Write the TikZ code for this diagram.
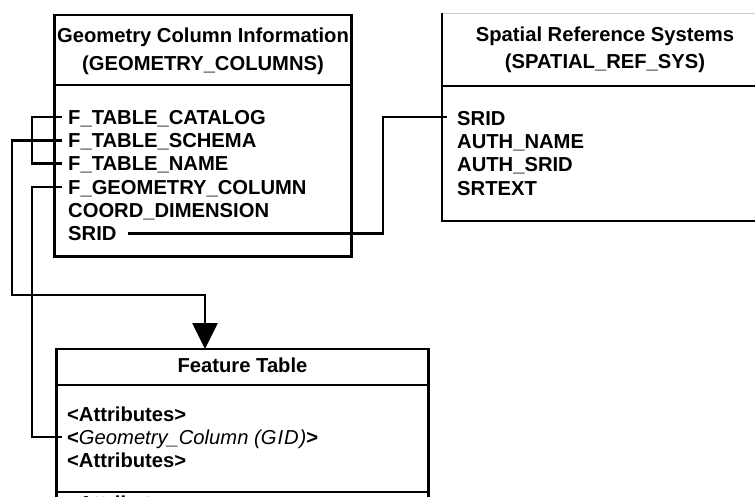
\documentclass[tikz,border=0pt]{standalone}
\usepackage{fontspec}
\setmainfont{Liberation Sans}
\usetikzlibrary{arrows.meta,calc}
\begin{document}
\begin{tikzpicture}[x=1pt,y=-1pt,
  frame/.style={draw=black,line width=2.8pt,inner sep=0pt,outer sep=0pt},
  blank/.style={inner sep=0pt,outer sep=0pt},
  rule/.style={line width=2.8pt},
  conn/.style={line width=2.7pt},
  field/.style={anchor=base west,inner sep=0pt,font=\fontsize{20.2}{24}\selectfont\bfseries},
  head/.style={anchor=base,inner sep=0pt,font=\fontsize{20.2}{24}\selectfont\bfseries},
  tip/.style={-{Triangle[length=26pt,width=25pt]}},
]
\useasboundingbox (0,0) rectangle (755,496);
\clip (0,0) rectangle (755,496);

% ---------- GEOMETRY_COLUMNS table ----------
\node[frame, anchor=north west, minimum width=296.7pt, minimum height=241.7pt] (gc) at (54.5,15) {};
\draw[rule] ($(gc.north west)+(0,70)$) -- ($(gc.north east)+(0,70)$);
\node[head] (gct1) at (203,42) {Geometry Column Information};
\node[head] (gct2) at (203,70) {(GEOMETRY\_COLUMNS)};
\node[field] (cat)  at (68,124)   {F\_TABLE\_CATALOG};
\node[field] (sch)  at (68,147.3) {F\_TABLE\_SCHEMA};
\node[field] (nam)  at (68,170.6) {F\_TABLE\_NAME};
\node[field] (gcol) at (68,194)   {F\_GEOMETRY\_COLUMN};
\node[field] (dim)  at (68,217.3) {COORD\_DIMENSION};
\node[field] (srid) at (68,240.6) {SRID};

% ---------- SPATIAL_REF_SYS table (runs off the right edge) ----------
\node[blank, anchor=north west, minimum width=400pt, minimum height=208pt] (srs) at (442,13) {};
\draw[gray!40, line width=0.8pt] (srs.north west) -- (srs.north east);
\draw[rule] (srs.north west) -- (srs.south west) -- (srs.south east);
\draw[rule] ($(srs.north west)+(0,73)$) -- ($(srs.north east)+(0,73)$);
\node[head] (srt1) at (605,41)   {Spatial Reference Systems};
\node[head] (srt2) at (605,68.5) {(SPATIAL\_REF\_SYS)};
\node[field] (s1) at (457,125)   {SRID};
\node[field] (s2) at (457,148.3) {AUTH\_NAME};
\node[field] (s3) at (457,171.6) {AUTH\_SRID};
\node[field] (s4) at (457,195)   {SRTEXT};

% ---------- Feature table (runs off the bottom edge) ----------
\node[frame, anchor=north west, minimum width=371.5pt, minimum height=200pt] (ft) at (56.7,349) {};
\draw[rule] ($(ft.north west)+(0,36)$) -- ($(ft.north east)+(0,36)$);
\draw[rule] ($(ft.north west)+(0,143)$) -- ($(ft.north east)+(0,143)$);
\node[head] (ftt) at (242.5,372) {Feature Table};
\node[field] (at1) at (67,421) {<Attributes>};
\node[field] (gid) at (67,444) {<{\mdseries\itshape Geometry\_Column (G\kern1pt I\kern1pt D\kern1pt)}>};
\node[field] (at2) at (67,467) {<Attributes>};
\node[field] (at3) at (67,510) {<Attributes>};

% ---------- connector ports and routing points ----------
\coordinate (catp)  at ([shift={(-6pt,7pt)}]cat.base west);
\coordinate (schp)  at ([shift={(-6pt,7pt)}]sch.base west);
\coordinate (namp)  at ([shift={(-6pt,7pt)}]nam.base west);
\coordinate (gcolp) at ([shift={(-6pt,7pt)}]gcol.base west);
\coordinate (sridp) at ([shift={(11pt,7pt)}]srid.base east);
\coordinate (s1p)   at ([shift={(-10pt,8pt)}]s1.base west);
\coordinate (gidp)  at ([shift={(-5pt,7pt)}]gid.base west);
\coordinate (bx)   at (32,0);
\coordinate (sx)   at (12,0);
\coordinate (rx)   at (383,0);
\coordinate (bend) at (205,295);

% ---------- connectors ----------
\draw[conn] (catp) -- (catp -| bx) -- (namp -| bx) -- (namp);
\draw[conn, tip] (schp) -- (schp -| sx) |- (bend) -- (bend |- ft.north);
\draw[conn] (gcolp) -- (gcolp -| bx) |- (gidp);
\draw[conn] (sridp) -- (sridp -| rx) |- (s1p);
\end{tikzpicture}
\end{document}
